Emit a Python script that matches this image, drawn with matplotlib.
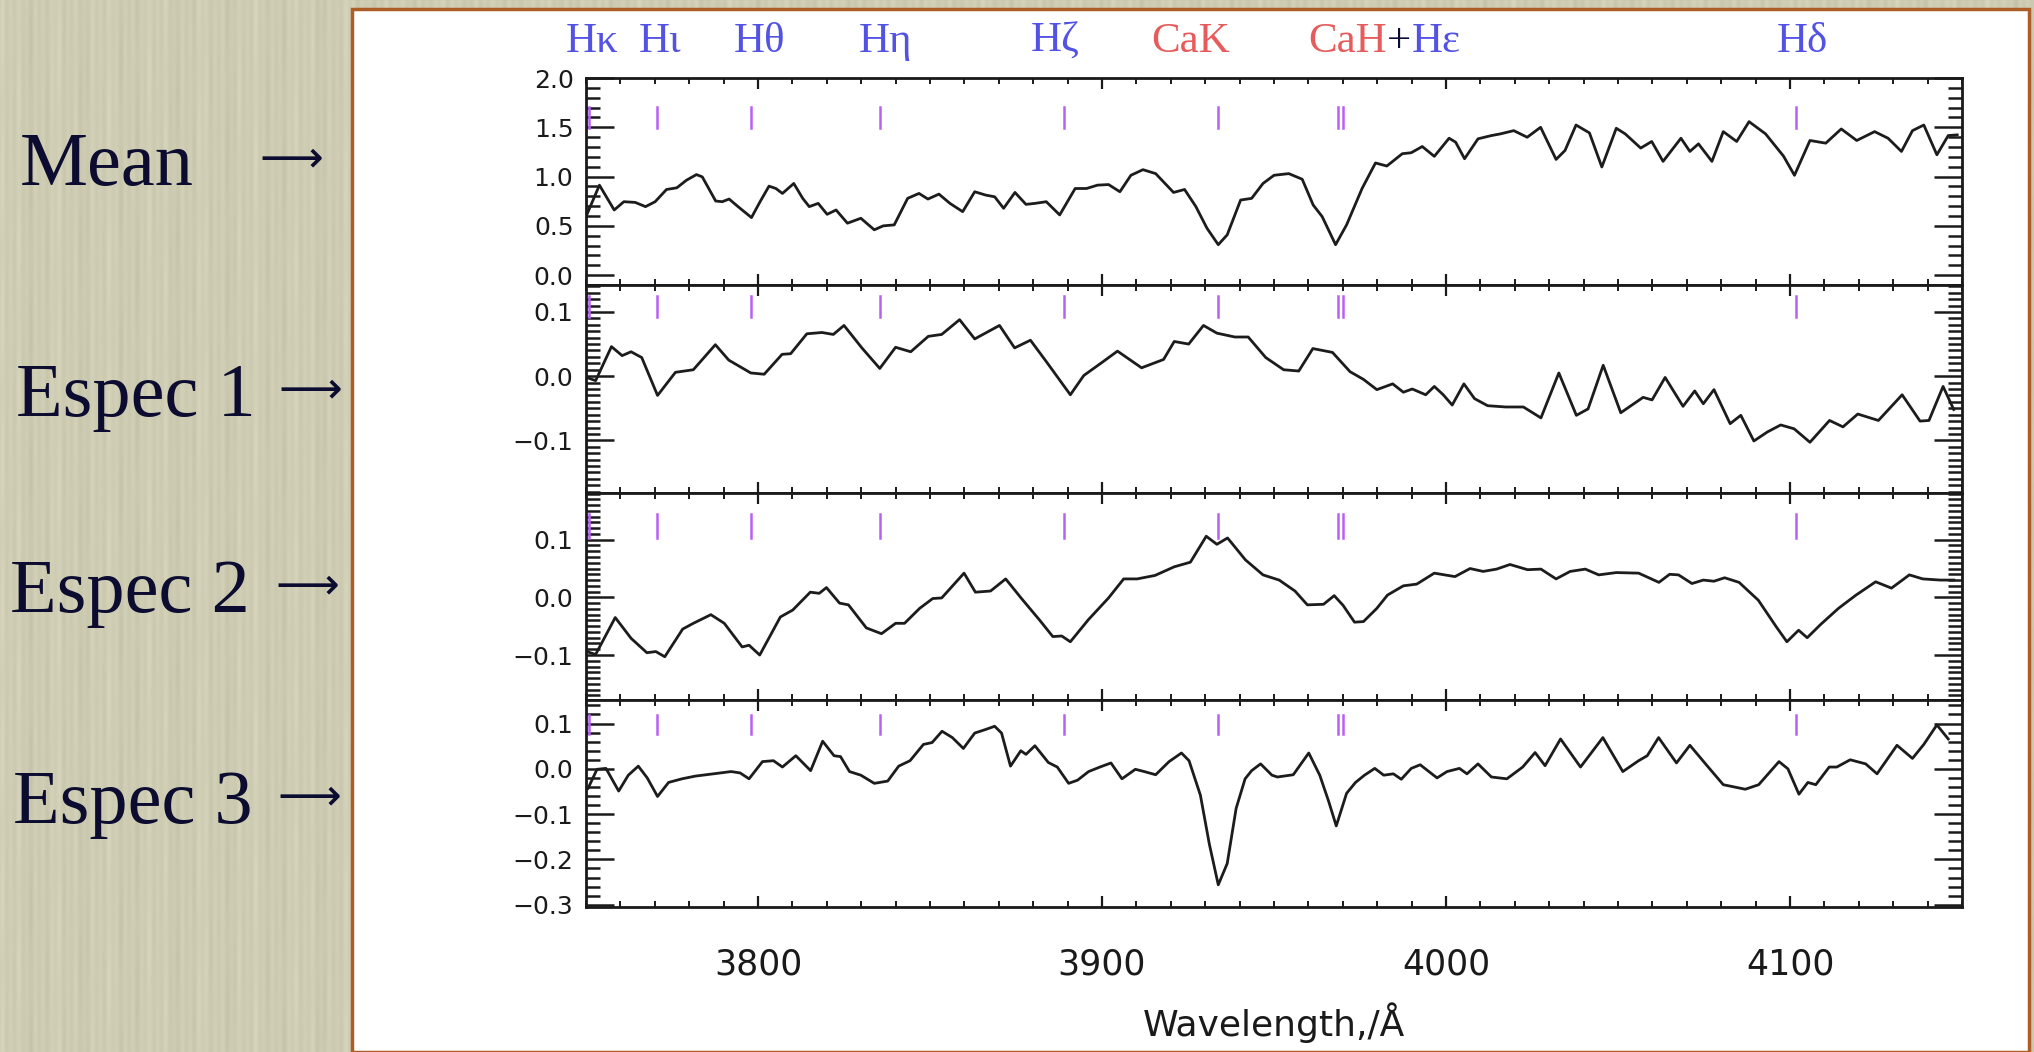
import numpy as np
import matplotlib
matplotlib.use("Agg")
import matplotlib.pyplot as plt
import matplotlib.transforms as mtransforms
from matplotlib.patches import Rectangle
from matplotlib.ticker import MultipleLocator, FuncFormatter

# ---- spectra (wavelength in Angstrom, flux) ----
wl_mean = [3750.0, 3753.9, 3758.2, 3761.0, 3764.3, 3767.3, 3770.1, 3773.4, 3776.4, 3779.2,
           3782.1, 3783.8, 3787.7, 3789.6, 3791.6, 3794.2, 3798.1, 3800.6, 3803.2, 3805.2,
           3807.1, 3810.4, 3813.0, 3814.9, 3817.5, 3820.1, 3822.7, 3826.0, 3829.9, 3833.8,
           3836.4, 3839.6, 3843.5, 3846.8, 3849.4, 3852.6, 3855.8, 3859.5, 3863.0, 3866.2,
           3868.8, 3871.4, 3874.7, 3877.9, 3880.5, 3883.8, 3887.7, 3892.2, 3895.5, 3898.7,
           3901.9, 3905.2, 3908.4, 3911.9, 3915.6, 3920.8, 3924.0, 3927.3, 3930.5, 3933.8,
           3936.4, 3940.3, 3943.5, 3946.8, 3950.0, 3954.3, 3958.2, 3961.4, 3964.0, 3967.9,
           3971.1, 3975.6, 3979.5, 3982.8, 3987.3, 3989.9, 3993.1, 3996.6, 4000.9, 4002.8,
           4005.4, 4009.3, 4013.2, 4015.8, 4019.7, 4023.6, 4027.5, 4032.0, 4034.6, 4037.8,
           4041.7, 4045.3, 4049.5, 4052.1, 4056.6, 4059.8, 4063.1, 4068.3, 4070.9, 4073.4,
           4077.3, 4080.6, 4084.5, 4088.1, 4092.9, 4098.1, 4101.3, 4105.8, 4110.4, 4114.9,
           4119.4, 4124.6, 4128.5, 4132.4, 4135.6, 4138.9, 4142.7, 4146.0, 4148.6]
flux_mean = [0.594, 0.913, 0.661, 0.745, 0.738, 0.695, 0.745, 0.869, 0.886, 0.963,
             1.020, 0.997, 0.752, 0.745, 0.772, 0.695, 0.584, 0.745, 0.903, 0.879,
             0.829, 0.930, 0.779, 0.695, 0.728, 0.617, 0.661, 0.527, 0.577, 0.460,
             0.500, 0.510, 0.779, 0.829, 0.772, 0.822, 0.728, 0.644, 0.846, 0.812,
             0.795, 0.678, 0.839, 0.718, 0.728, 0.745, 0.611, 0.879, 0.879, 0.913,
             0.919, 0.846, 1.013, 1.070, 1.030, 0.839, 0.869, 0.695, 0.477, 0.309,
             0.409, 0.762, 0.779, 0.930, 1.013, 1.030, 0.973, 0.711, 0.594, 0.309,
             0.510, 0.879, 1.138, 1.107, 1.232, 1.242, 1.305, 1.205, 1.389, 1.349,
             1.181, 1.383, 1.416, 1.433, 1.466, 1.399, 1.500, 1.174, 1.265, 1.523,
             1.443, 1.097, 1.490, 1.433, 1.289, 1.356, 1.154, 1.389, 1.255, 1.332,
             1.154, 1.456, 1.356, 1.557, 1.433, 1.208, 1.013, 1.366, 1.339, 1.483,
             1.366, 1.456, 1.389, 1.255, 1.466, 1.523, 1.221, 1.416, 1.423]

wl_e1 = [3750.2, 3752.8, 3757.4, 3760.5, 3763.1, 3766.2, 3770.8, 3776.0, 3781.2, 3787.6,
         3791.5, 3797.9, 3801.8, 3807.0, 3809.5, 3814.2, 3818.6, 3821.9, 3825.0, 3830.2,
         3835.4, 3840.0, 3844.4, 3849.5, 3853.4, 3858.6, 3863.0, 3870.2, 3874.6, 3879.2,
         3883.9, 3890.8, 3894.7, 3899.9, 3904.5, 3911.5, 3917.9, 3921.0, 3925.2, 3929.5,
         3933.4, 3938.6, 3942.5, 3947.6, 3952.8, 3957.2, 3961.3, 3967.0, 3972.1, 3976.0,
         3979.9, 3984.5, 3987.6, 3990.2, 3994.1, 3996.6, 3999.2, 4001.8, 4005.2, 4008.3,
         4012.1, 4017.3, 4022.5, 4027.6, 4032.8, 4037.9, 4041.3, 4045.7, 4050.8, 4057.3,
         4059.9, 4063.7, 4068.9, 4072.3, 4074.8, 4077.9, 4082.6, 4085.7, 4089.5, 4093.4,
         4097.3, 4101.2, 4105.8, 4111.5, 4115.4, 4119.7, 4125.7, 4132.6, 4137.8, 4140.4,
         4144.5, 4147.6]
flux_e1 = [-0.002, -0.007, 0.046, 0.032, 0.038, 0.029, -0.030, 0.006, 0.010, 0.049,
           0.025, 0.005, 0.003, 0.034, 0.035, 0.066, 0.068, 0.065, 0.079, 0.044,
           0.012, 0.045, 0.038, 0.062, 0.065, 0.088, 0.058, 0.079, 0.044, 0.056,
           0.022, -0.029, 0.001, 0.021, 0.039, 0.013, 0.026, 0.054, 0.050, 0.079,
           0.067, 0.061, 0.061, 0.029, 0.010, 0.008, 0.043, 0.037, 0.007, -0.005,
           -0.021, -0.012, -0.025, -0.020, -0.029, -0.016, -0.029, -0.045, -0.012, -0.035,
           -0.046, -0.048, -0.048, -0.065, 0.005, -0.061, -0.051, 0.017, -0.057, -0.033,
           -0.037, -0.002, -0.047, -0.023, -0.043, -0.021, -0.074, -0.061, -0.101, -0.087,
           -0.076, -0.082, -0.103, -0.069, -0.079, -0.059, -0.069, -0.029, -0.070, -0.069,
           -0.016, -0.052]

wl_e2 = [3750.2, 3752.8, 3758.5, 3763.1, 3767.7, 3770.3, 3772.9, 3778.1, 3781.2, 3786.3,
         3790.2, 3795.4, 3797.4, 3800.5, 3806.5, 3810.1, 3815.2, 3817.8, 3819.9, 3823.7,
         3826.3, 3831.5, 3835.9, 3840.0, 3842.6, 3847.0, 3850.8, 3853.4, 3859.9, 3863.2,
         3867.6, 3872.0, 3876.6, 3881.8, 3885.7, 3888.3, 3890.8, 3896.0, 3901.9, 3906.3,
         3910.2, 3915.4, 3921.0, 3925.7, 3930.3, 3933.4, 3936.5, 3941.7, 3946.8, 3951.5,
         3956.1, 3959.7, 3964.4, 3967.5, 3970.1, 3973.4, 3976.0, 3979.9, 3983.0, 3987.6,
         3991.5, 3996.6, 4002.6, 4007.0, 4010.8, 4014.7, 4018.6, 4023.7, 4027.6, 4032.0,
         4036.1, 4040.5, 4044.4, 4049.5, 4056.0, 4061.9, 4065.0, 4067.6, 4071.5, 4074.8,
         4077.9, 4081.0, 4085.2, 4090.8, 4096.0, 4099.1, 4102.5, 4105.0, 4108.9, 4114.1,
         4119.2, 4124.9, 4129.5, 4134.7, 4138.6, 4143.7, 4147.6]
flux_e2 = [-0.094, -0.099, -0.035, -0.071, -0.096, -0.094, -0.103, -0.055, -0.045, -0.030,
           -0.045, -0.086, -0.083, -0.100, -0.034, -0.022, 0.009, 0.007, 0.017, -0.010,
           -0.013, -0.053, -0.063, -0.045, -0.045, -0.019, -0.002, -0.001, 0.042, 0.009,
           0.011, 0.032, -0.002, -0.039, -0.068, -0.067, -0.077, -0.039, -0.001, 0.032,
           0.032, 0.038, 0.053, 0.061, 0.106, 0.092, 0.103, 0.065, 0.039, 0.030,
           0.011, -0.013, -0.012, 0.003, -0.014, -0.043, -0.042, -0.019, 0.004, 0.020,
           0.023, 0.042, 0.036, 0.050, 0.045, 0.049, 0.057, 0.048, 0.049, 0.032,
           0.045, 0.049, 0.039, 0.043, 0.042, 0.026, 0.040, 0.039, 0.024, 0.030,
           0.028, 0.034, 0.026, -0.005, -0.051, -0.077, -0.057, -0.070, -0.047, -0.019,
           0.004, 0.027, 0.016, 0.039, 0.032, 0.030, 0.030]

wl_e3 = [3750.6, 3753.2, 3755.8, 3759.5, 3762.3, 3765.2, 3767.8, 3770.8, 3774.0, 3777.9,
         3781.8, 3787.0, 3792.2, 3794.8, 3797.4, 3801.3, 3804.5, 3807.1, 3811.0, 3815.3,
         3818.8, 3822.1, 3824.0, 3826.6, 3829.9, 3833.8, 3837.7, 3840.9, 3844.2, 3848.1,
         3850.6, 3853.5, 3856.5, 3859.7, 3863.0, 3866.2, 3868.8, 3870.8, 3873.4, 3876.4,
         3877.9, 3880.5, 3884.4, 3887.0, 3890.3, 3892.9, 3896.1, 3899.4, 3902.6, 3905.8,
         3909.7, 3912.3, 3915.6, 3919.5, 3923.1, 3925.3, 3928.6, 3931.2, 3933.8, 3936.4,
         3939.0, 3941.6, 3943.5, 3946.1, 3949.4, 3951.0, 3955.6, 3960.1, 3963.3, 3965.9,
         3968.1, 3971.1, 3973.7, 3976.3, 3979.3, 3981.9, 3984.7, 3987.0, 3989.9, 3992.5,
         3997.4, 4000.3, 4003.9, 4006.1, 4009.3, 4013.2, 4017.7, 4022.3, 4025.9, 4028.8,
         4033.3, 4039.1, 4045.6, 4051.4, 4056.0, 4058.5, 4061.8, 4067.0, 4070.9, 4076.0,
         4080.6, 4087.0, 4090.9, 4096.8, 4099.4, 4102.6, 4105.2, 4107.5, 4111.4, 4113.6,
         4117.5, 4122.0, 4125.3, 4131.1, 4135.6, 4138.9, 4142.7, 4146.0]
flux_e3 = [-0.043, -0.001, 0.001, -0.049, -0.014, 0.006, -0.020, -0.061, -0.030, -0.022,
           -0.016, -0.011, -0.006, -0.009, -0.022, 0.016, 0.018, 0.004, 0.029, -0.004,
           0.061, 0.029, 0.027, -0.006, -0.014, -0.032, -0.027, 0.006, 0.018, 0.054,
           0.058, 0.083, 0.069, 0.045, 0.079, 0.087, 0.094, 0.079, 0.006, 0.040,
           0.032, 0.051, 0.014, 0.004, -0.032, -0.025, -0.006, 0.004, 0.013, -0.022,
           -0.001, -0.006, -0.013, 0.016, 0.035, 0.018, -0.058, -0.166, -0.256, -0.209,
           -0.087, -0.022, -0.004, 0.011, -0.014, -0.018, -0.013, 0.035, -0.014, -0.072,
           -0.126, -0.054, -0.030, -0.014, 0.001, -0.014, -0.011, -0.023, 0.001, 0.009,
           -0.020, -0.006, 0.001, -0.011, 0.011, -0.018, -0.022, 0.004, 0.036, 0.007,
           0.066, 0.004, 0.069, -0.006, 0.018, 0.029, 0.069, 0.013, 0.052, 0.006,
           -0.035, -0.045, -0.035, 0.016, 0.000, -0.056, -0.030, -0.035, 0.004, 0.004,
           0.020, 0.011, -0.011, 0.052, 0.023, 0.054, 0.097, 0.066]

# absorption lines marked in every panel
line_wl = [3750.9, 3770.63, 3797.90, 3835.39, 3889.05, 3933.66, 3968.47, 3970.07, 4101.74]

# top captions: (text, wavelength under the caption centre, colour key)
caption_names = ["Hκ", "Hι", "Hθ", "Hη", "Hζ", "CaK", "Hδ"]
caption_wl = [3751.7, 3771.4, 3800.4, 3837.2, 3886.5, 3925.9, 4103.6]
caption_kind = ["H", "H", "H", "H", "H", "Ca", "H"]

row_names = ["Mean", "Espec 1", "Espec 2", "Espec 3"]

# ---- figure layout in pixels ----
W, H = 2034, 1052
fx = lambda px: px / W
fy = lambda py: 1 - py / H

BLUE = "#5252e4"
RED = "#e65c5c"
INK = "#0c0c30"
MARK = "#b860f6"

fig = plt.figure(figsize=(W / 100, H / 100), dpi=100)

# textured paper background
xx = np.arange(W)
yy = np.arange(H)[:, None]
streak = (np.sin(xx / 1.3) * 0.5 + np.sin(xx / 2.9 + 1.1) * 0.35 + np.sin(xx / 7.7 + 0.4) * 0.25)
streak = streak[None, :] * (0.75 + 0.25 * np.sin(yy / 23.0 + xx[None, :] / 5.0))
base = np.array([206, 205, 180]) / 255.0
paper = np.clip(base[None, None, :] + 0.035 * streak[..., None], 0, 1)
fig.figimage(paper, xo=0, yo=0, zorder=0)

fig.patches.append(Rectangle((fx(352), 0), fx(2029) - fx(352), fy(9), transform=fig.transFigure,
                             facecolor="white", edgecolor="#ad5e26", linewidth=2.5, zorder=0.5))

# ---- four stacked panels ----
edges = [78, 285, 493, 700, 907]
left_px, right_px = 586, 1962
series = [(wl_mean, flux_mean), (wl_e1, flux_e1), (wl_e2, flux_e2), (wl_e3, flux_e3)]
ylims = [(-0.1, 2.0), (-0.182, 0.142), (-0.178, 0.181), (-0.305, 0.152)]
ymajor = [0.5, 0.1, 0.1, 0.1]
yminor = [0.1, 0.01, 0.01, 0.02]
mark_span = [(0.76, 0.86), (0.845, 0.947), (0.783, 0.898), (0.836, 0.928)]


def fmt(v, pos):
    s = "%.1f" % v
    if s == "-0.0":
        s = "0.0"
    return s.replace("-", "\u2212")


axs = []
for i in range(4):
    top, bot = edges[i], edges[i + 1]
    ax = fig.add_axes([fx(left_px), fy(bot), (right_px - left_px) / W, (bot - top) / H])
    ax.set_zorder(1)
    wl, fl = series[i]
    ax.plot(wl, fl, color="#1c1c1c", lw=2.0, solid_joinstyle="round")
    ax.set_xlim(3750, 4150)
    ax.set_ylim(*ylims[i])
    for lw_ in line_wl:
        ax.axvline(lw_, ymin=mark_span[i][0], ymax=mark_span[i][1], color=MARK, lw=1.8)

    ax.xaxis.set_major_locator(MultipleLocator(100))
    ax.xaxis.set_minor_locator(MultipleLocator(10))
    ax.yaxis.set_major_locator(MultipleLocator(ymajor[i]))
    ax.yaxis.set_minor_locator(MultipleLocator(yminor[i]))
    ax.yaxis.set_major_formatter(FuncFormatter(fmt))
    ax.tick_params(axis="x", which="both", direction="in", top=True, bottom=True,
                   labelbottom=(i == 3), labelsize=25, pad=29, colors="#1a1a1a")
    ax.tick_params(axis="x", which="major", length=8, width=1.6)
    ax.tick_params(axis="x", which="minor", length=4, width=1.4)
    ax.tick_params(axis="y", which="both", direction="in", left=True, right=True,
                   labelsize=18, pad=9, colors="#1a1a1a")
    ax.tick_params(axis="y", which="major", length=20, width=1.8)
    ax.tick_params(axis="y", which="minor", length=10, width=1.8)
    for sp in ax.spines.values():
        sp.set_linewidth(2.0)
        sp.set_color("#1a1a1a")
    for lab in ax.get_xticklabels() + ax.get_yticklabels():
        lab.set_family("DejaVu Sans")
    axs.append(ax)

fig.text(fx((left_px + right_px) / 2), fy(1036), "Wavelength,/Å", ha="center", va="baseline",
         fontsize=26, family="DejaVu Sans", color="#1a1a1a")

# ---- line captions along the top ----
blend = mtransforms.blended_transform_factory(axs[0].transData, fig.transFigure)
serif = ["Liberation Serif", "DejaVu Serif"]
for name, w, kind in zip(caption_names, caption_wl, caption_kind):
    fig.text(w, fy(52), name, transform=blend, ha="center", va="baseline", fontsize=31,
             family=serif, color=BLUE if kind == "H" else RED)

t_cah = fig.text(3960.1, fy(52), "CaH", transform=blend, ha="left", va="baseline",
                 fontsize=31, family=serif, color=RED)
t_plus = axs[0].annotate("+", xy=(1, 0), xycoords=t_cah, ha="left", va="bottom",
                         fontsize=31, family=serif, color=INK, annotation_clip=False)
axs[0].annotate("Hε", xy=(1, 0), xycoords=t_plus, ha="left", va="bottom",
                fontsize=31, family=serif, color=BLUE, annotation_clip=False)

# ---- row names on the paper strip ----
row_x = [20, 16, 10, 13]
row_base = [185, 416, 612, 823]
arrow_cx = [291, 310, 307, 309]
for name, x0, yb, xa in zip(row_names, row_x, row_base, arrow_cx):
    fig.text(fx(x0), fy(yb), name, ha="left", va="baseline", fontsize=55,
             family=serif, color=INK)
    fig.text(fx(xa), fy(yb - 26), "\u27f6", ha="center", va="center", fontsize=32,
             family="DejaVu Sans", color=INK)

fig.savefig("out.png", dpi=100)
